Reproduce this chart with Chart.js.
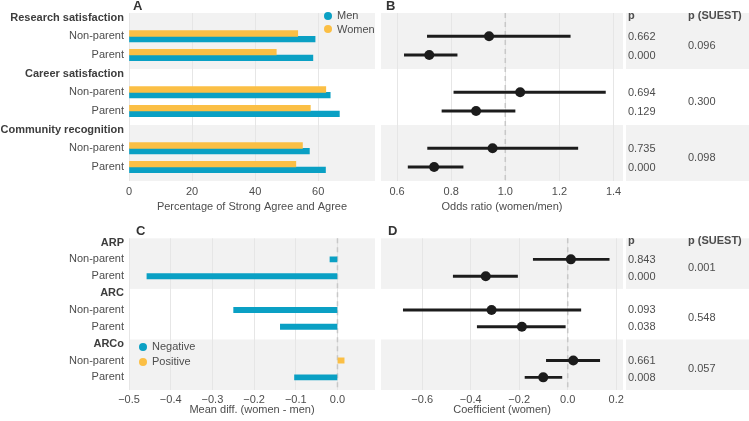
<!DOCTYPE html>
<html>
<head>
<meta charset="utf-8">
<script src="https://cdn.jsdelivr.net/npm/chart.js@4.4.1/dist/chart.umd.min.js"></script>
<style>
  body { margin: 0; background: #fff; width: 749px; height: 421px; position: relative; overflow: hidden;
         font-family: 'Liberation Sans', Arial, sans-serif; color: #4d4d4d; }
  canvas { position: absolute; }
  .tag { position: absolute; font-weight: bold; font-size: 13px; line-height: 14px; color: #333; }
  .leg { position: absolute; font-size: 11px; }
  .leg div { height: 13.6px; line-height: 13.6px; display: flex; align-items: center; }
  .dot { width: 8px; height: 8px; border-radius: 50%; margin-right: 5px; display: inline-block; }
</style>
</head>
<body>
<canvas id="chartA" width="376" height="215" style="left:0;top:0"></canvas>
<canvas id="chartB" width="373" height="215" style="left:376px;top:0"></canvas>
<canvas id="chartC" width="376" height="206" style="left:0;top:215px"></canvas>
<canvas id="chartD" width="373" height="206" style="left:376px;top:215px"></canvas>

<div class="tag" style="left:133px;top:-1px">A</div>
<div class="tag" style="left:386px;top:-1px">B</div>
<div class="tag" style="left:136px;top:224px">C</div>
<div class="tag" style="left:388px;top:224px">D</div>

<div class="leg" style="left:324px;top:9px">
  <div><span class="dot" style="background:#0aa0c4"></span>Men</div>
  <div><span class="dot" style="background:#fbbf45"></span>Women</div>
</div>
<div class="leg" style="left:139px;top:340px">
  <div style="height:14.4px"><span class="dot" style="background:#0aa0c4"></span>Negative</div>
  <div style="height:14.4px"><span class="dot" style="background:#fbbf45"></span>Positive</div>
</div>

<script>
'use strict';

// ── Rows (header row + two sub-rows per group) ─────────────
const rowLabelsTop    = ['Research satisfaction', 'Non-parent', 'Parent',
                         'Career satisfaction', 'Non-parent', 'Parent',
                         'Community recognition', 'Non-parent', 'Parent'];
const rowLabelsBottom = ['ARP', 'Non-parent', 'Parent',
                         'ARC', 'Non-parent', 'Parent',
                         'ARCo', 'Non-parent', 'Parent'];
const headerRows = [0, 3, 6];
const shadedGroups = [0, 6];
const dataRows = [1, 2, 4, 5, 7, 8];

// ── Panel A : % strong agree + agree ───────────────────────
const womenPct = [53.5, 46.7, 62.4, 57.5, 55.0, 52.9];
const menPct   = [59.0, 58.3, 63.8, 66.7, 57.2, 62.3];
const ticksA   = [0, 20, 40, 60];

// ── Panel B : odds ratio (women/men) ───────────────────────
const orEst  = [0.940, 0.719, 1.055, 0.892, 0.953, 0.737];
const orLow  = [0.712, 0.627, 0.810, 0.766, 0.713, 0.641];
const orHigh = [1.240, 0.822, 1.370, 1.036, 1.268, 0.844];
const pB     = ['0.662', '0.000', '0.694', '0.129', '0.735', '0.000'];
const suestB = ['0.096', '0.300', '0.098'];
const ticksB = [0.6, 0.8, 1.0, 1.2, 1.4];

// ── Panel C : mean difference (women - men) ────────────────
const meanDiff = [-0.018, -0.457, -0.249, -0.137, 0.016, -0.103];
const ticksC   = [-0.5, -0.4, -0.3, -0.2, -0.1, 0.0];

// ── Panel D : coefficient (women) ──────────────────────────
const coefEst  = [0.013, -0.338, -0.314, -0.189, 0.023, -0.101];
const coefLow  = [-0.142, -0.472, -0.678, -0.373, -0.088, -0.176];
const coefHigh = [0.171, -0.207, 0.054, -0.010, 0.132, -0.024];
const pD       = ['0.843', '0.000', '0.093', '0.038', '0.661', '0.008'];
const suestD   = ['0.001', '0.548', '0.057'];
const ticksD   = [-0.6, -0.4, -0.2, 0.0, 0.2];

const FONT   = "'Liberation Sans', Arial, sans-serif";
const TEAL   = '#0aa0c4';
const YELLOW = '#fbbf45';
const INK    = '#1c1c1c';
const TXT    = '#4d4d4d';
const BAND   = '#f2f2f2';

const fmt1 = v => (v < 0 ? '\u2212' : '') + Math.abs(v).toFixed(1);

// gray bands behind groups 1 and 3 (+ p column for B/D)
function bandsPlugin(extra) {
  return {
    id: 'bands',
    beforeDraw(chart) {
      const { ctx, chartArea: a, scales: { y } } = chart;
      ctx.save();
      ctx.fillStyle = BAND;
      shadedGroups.forEach(g => {
        const top = y.getPixelForValue(g - 0.25);
        const bot = y.getPixelForValue(g + 2.75);
        ctx.fillRect(a.left, top, a.right - a.left, bot - top);
        if (extra) ctx.fillRect(a.right + 3, top, chart.width - a.right - 3, bot - top);
      });
      ctx.restore();
    }
  };
}

// dashed reference line
function refLinePlugin(value) {
  return {
    id: 'refLine',
    beforeDatasetsDraw(chart) {
      const { ctx, chartArea: a, scales: { x } } = chart;
      const px = x.getPixelForValue(value);
      ctx.save();
      ctx.strokeStyle = '#c8c8c8';
      ctx.lineWidth = 1.5;
      ctx.setLineDash([5, 4]);
      ctx.beginPath();
      ctx.moveTo(px, a.top);
      ctx.lineTo(px, a.bottom);
      ctx.stroke();
      ctx.restore();
    }
  };
}

// p-value columns to the right of B / D
function pColumnPlugin(pVals, suest) {
  return {
    id: 'pColumn',
    afterDraw(chart) {
      const { ctx, chartArea: a, scales: { y } } = chart;
      ctx.save();
      ctx.fillStyle = TXT;
      ctx.textBaseline = 'middle';
      ctx.textAlign = 'left';
      ctx.font = 'bold 11px ' + FONT;
      ctx.fillText('p', a.right + 5, y.getPixelForValue(0) - 2);
      ctx.fillText('p (SUEST)', a.right + 65, y.getPixelForValue(0) - 2);
      ctx.font = '11px ' + FONT;
      dataRows.forEach((r, i) => ctx.fillText(pVals[i], a.right + 5, y.getPixelForValue(r) + 0.5));
      suest.forEach((s, g) => ctx.fillText(s, a.right + 65, y.getPixelForValue(3 * g + 1.5)));
      ctx.restore();
    }
  };
}

function rowAxis(labels, show) {
  return {
    type: 'linear', reverse: true, min: -0.25, max: 8.75,
    display: show, offset: false,
    afterBuildTicks: s => { s.ticks = labels.map((_, i) => ({ value: i })); },
    afterFit: s => { if (show) s.width = 129; },
    grid: { display: false, drawTicks: false, offset: false },
    border: { display: false },
    ticks: {
      autoSkip: false, padding: 5,
      callback: v => labels[v],
      color: c => headerRows.includes(c.tick && c.tick.value) ? '#3d3d3d' : TXT,
      font: c => ({ family: FONT, size: 11,
                    weight: headerRows.includes(c.tick && c.tick.value) ? 'bold' : 'normal' })
    }
  };
}

function valueAxis(min, max, ticks, title, fmt, h, tickPad, titlePad) {
  return {
    type: 'linear', min, max,
    afterBuildTicks: s => { s.ticks = ticks.map(v => ({ value: v })); },
    afterFit: s => { s.height = h; },
    grid: { color: '#e6e6e6', lineWidth: 1, drawTicks: false },
    border: { display: false },
    ticks: { autoSkip: false, maxRotation: 0, padding: tickPad, color: TXT,
             font: { family: FONT, size: 11 }, callback: fmt },
    title: { display: true, text: title, color: TXT, font: { family: FONT, size: 11 },
             padding: { top: 0, bottom: titlePad } }
  };
}

const common = {
  responsive: false, animation: false, devicePixelRatio: 1, events: [],
  indexAxis: 'y',
  plugins: { legend: { display: false }, tooltip: { enabled: false } }
};

// ── A ──────────────────────────────────────────────────────
new Chart(document.getElementById('chartA'), {
  type: 'bar',
  data: {
    datasets: [
      { label: 'Women', data: dataRows.map((r, i) => ({ x: womenPct[i], y: r })),
        backgroundColor: YELLOW, barThickness: 5.7 },
      { label: 'Men', data: dataRows.map((r, i) => ({ x: menPct[i], y: r })),
        backgroundColor: TEAL, barThickness: 5.7 }
    ]
  },
  options: {
    ...common,
    layout: { padding: { top: 13, left: 0, right: 1, bottom: 0 } },
    scales: {
      x: valueAxis(0, 78, ticksA, 'Percentage of Strong Agree and Agree', v => String(v), 34, 4, 1.4),
      y: rowAxis(rowLabelsTop, true)
    }
  },
  plugins: [bandsPlugin(false)]
});

// ── B ──────────────────────────────────────────────────────
new Chart(document.getElementById('chartB'), {
  type: 'bar',
  data: {
    datasets: [
      { type: 'scatter', data: dataRows.map((r, i) => ({ x: orEst[i], y: r })),
        pointRadius: 5, backgroundColor: INK, borderWidth: 0, order: 0 },
      { type: 'bar', data: dataRows.map((r, i) => ({ x: [orLow[i], orHigh[i]], y: r })),
        backgroundColor: INK, barThickness: 2.3, order: 1 }
    ]
  },
  options: {
    ...common,
    layout: { padding: { top: 13, left: 1, right: 126, bottom: 0 } },
    scales: {
      x: valueAxis(0.5407, 1.435, ticksB, 'Odds ratio (women/men)', v => v.toFixed(1), 34, 4, 1.4),
      y: rowAxis(rowLabelsTop, false)
    }
  },
  plugins: [bandsPlugin(true), refLinePlugin(1.0), pColumnPlugin(pB, suestB)]
});

// ── C ──────────────────────────────────────────────────────
new Chart(document.getElementById('chartC'), {
  type: 'bar',
  data: {
    datasets: [
      { data: dataRows.map((r, i) => ({ x: meanDiff[i], y: r })),
        backgroundColor: c => (c.raw && c.raw.x > 0) ? YELLOW : TEAL, barThickness: 5.3 }
    ]
  },
  options: {
    ...common,
    layout: { padding: { top: 23.3, left: 0, right: 1, bottom: 0 } },
    scales: {
      x: valueAxis(-0.5, 0.09, ticksC, 'Mean diff. (women - men)', fmt1, 31, 3.4, 4.4),
      y: rowAxis(rowLabelsBottom, true)
    }
  },
  plugins: [bandsPlugin(false), refLinePlugin(0)]
});

// ── D ──────────────────────────────────────────────────────
new Chart(document.getElementById('chartD'), {
  type: 'bar',
  data: {
    datasets: [
      { type: 'scatter', data: dataRows.map((r, i) => ({ x: coefEst[i], y: r })),
        pointRadius: 5, backgroundColor: INK, borderWidth: 0, order: 0 },
      { type: 'bar', data: dataRows.map((r, i) => ({ x: [coefLow[i], coefHigh[i]], y: r })),
        backgroundColor: INK, barThickness: 2.3, order: 1 }
    ]
  },
  options: {
    ...common,
    layout: { padding: { top: 23.3, left: 1, right: 126, bottom: 0 } },
    scales: {
      x: valueAxis(-0.770, 0.228, ticksD, 'Coefficient (women)', fmt1, 31, 3.4, 4.4),
      y: rowAxis(rowLabelsBottom, false)
    }
  },
  plugins: [bandsPlugin(true), refLinePlugin(0), pColumnPlugin(pD, suestD)]
});
</script>
</body>
</html>
